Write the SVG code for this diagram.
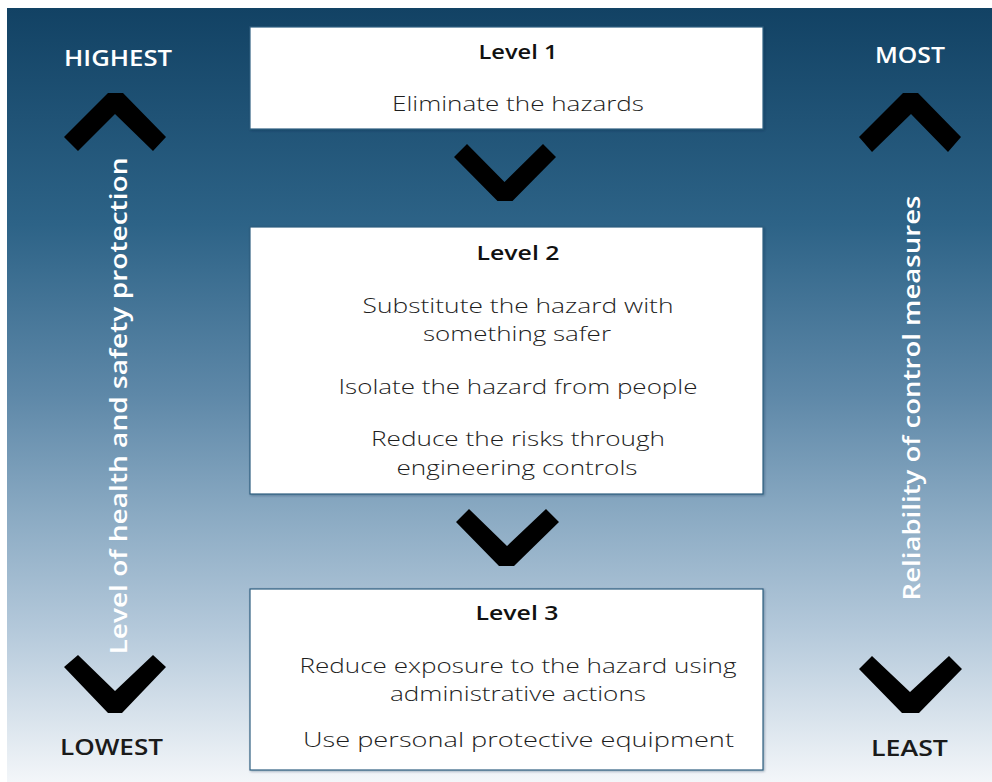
<svg xmlns="http://www.w3.org/2000/svg" width="992" height="782" viewBox="0 0 992 782">
  <defs>
    <linearGradient id="bg" x1="0" y1="0" x2="0" y2="1">
      <stop offset="0" stop-color="#124264"/>
      <stop offset="0.28" stop-color="#2d6387"/>
      <stop offset="0.5" stop-color="#5e88a8"/>
      <stop offset="0.65" stop-color="#89a9c2"/>
      <stop offset="0.8" stop-color="#b3c8da"/>
      <stop offset="1" stop-color="#f3f6f9"/>
    </linearGradient>
    <filter id="shadow" x="-5%" y="-5%" width="110%" height="115%">
      <feDropShadow dx="1" dy="1" stdDeviation="1" flood-color="#0b2b44" flood-opacity="0.35"/>
    </filter>
  </defs>
  <style>
    .box { fill: #ffffff; stroke: #2f5f80; stroke-width: 1.2; filter: url(#shadow); }
    .chev { fill: #000000; }
    .title { font-family: "Open Sans", "Liberation Sans", sans-serif; font-weight: 600; font-size: 20px; fill: #111111; text-anchor: middle; }
    .body { font-family: "Open Sans", "Liberation Sans", sans-serif; font-weight: 300; font-size: 21px; fill: #1e1e1e; text-anchor: middle; }
    .scale { font-family: "Open Sans", "Liberation Sans", sans-serif; font-weight: 600; font-size: 22px; text-anchor: middle; }
    .light { fill: #ffffff; }
    .dark { fill: #1a1a1a; }
    .axis { font-family: "Open Sans", "Liberation Sans", sans-serif; font-weight: 600; font-size: 24px; fill: #ffffff; text-anchor: middle; }
  </style>

  <!-- background panel -->
  <rect x="0" y="0" width="992" height="782" fill="#ffffff"/>
  <rect x="7" y="8" width="985" height="774" fill="url(#bg)"/>

  <!-- side scales -->
  <g id="scale-left">
    <text class="scale light" x="118" y="66" textLength="108" lengthAdjust="spacingAndGlyphs">HIGHEST</text>
    <polygon class="chev" points="64,137 108,93 123,93 166,137 153,151 115,114 78,151"/>
    <text class="axis" transform="translate(127,406) rotate(-90)" textLength="497" lengthAdjust="spacingAndGlyphs">Level of health and safety protection</text>
    <polygon class="chev" points="64,667 78,655 115,691 153,655 166,667 122,713 108,713"/>
    <text class="scale dark" x="111.5" y="755" textLength="103" lengthAdjust="spacingAndGlyphs">LOWEST</text>
  </g>

  <g id="scale-right">
    <text class="scale light" x="910" y="63" textLength="70" lengthAdjust="spacingAndGlyphs">MOST</text>
    <polygon class="chev" points="859,137 903,93 918,93 961,137 948,152 911,114 872,152"/>
    <text class="axis" transform="translate(920,398) rotate(-90)" textLength="405" lengthAdjust="spacingAndGlyphs">Reliability of control measures</text>
    <polygon class="chev" points="859,669 872,656 910,692 949,656 962,669 919,713 902,713"/>
    <text class="scale dark" x="909.5" y="756" textLength="77" lengthAdjust="spacingAndGlyphs">LEAST</text>
  </g>

  <!-- levels -->
  <g id="level-1">
    <rect class="box" x="250" y="27" width="513" height="102"/>
    <text class="title" x="518" y="59" textLength="79" lengthAdjust="spacingAndGlyphs">Level 1</text>
    <text class="body" x="518" y="111" textLength="252" lengthAdjust="spacingAndGlyphs">Eliminate the hazards</text>
  </g>

  <g id="level-2">
    <rect class="box" x="250" y="227" width="513" height="267"/>
    <text class="title" x="518" y="260" textLength="83" lengthAdjust="spacingAndGlyphs">Level 2</text>
    <text class="body" x="518" y="312.5" textLength="311" lengthAdjust="spacingAndGlyphs">Substitute the hazard with</text>
    <text class="body" x="517" y="341" textLength="188" lengthAdjust="spacingAndGlyphs">something safer</text>
    <text class="body" x="518" y="394" textLength="359" lengthAdjust="spacingAndGlyphs">Isolate the hazard from people</text>
    <text class="body" x="518" y="446" textLength="294" lengthAdjust="spacingAndGlyphs">Reduce the risks through</text>
    <text class="body" x="517" y="475" textLength="241" lengthAdjust="spacingAndGlyphs">engineering controls</text>
  </g>

  <g id="level-3">
    <rect class="box" x="250" y="589" width="513" height="181"/>
    <text class="title" x="517" y="619.5" textLength="83" lengthAdjust="spacingAndGlyphs">Level 3</text>
    <text class="body" x="518" y="673" textLength="437" lengthAdjust="spacingAndGlyphs">Reduce exposure to the hazard using</text>
    <text class="body" x="518" y="701" textLength="256" lengthAdjust="spacingAndGlyphs">administrative actions</text>
    <text class="body" x="518.5" y="747" textLength="431" lengthAdjust="spacingAndGlyphs">Use personal protective equipment</text>
  </g>

  <!-- connectors between levels -->
  <g id="connectors">
    <polygon class="chev" points="454,157 467,144 504.5,182 543,144 556,157 512.5,201 497.5,201"/>
    <polygon class="chev" points="456,522 469,509 507,546 546,509 559,522 514,566 499,566"/>
  </g>
</svg>
